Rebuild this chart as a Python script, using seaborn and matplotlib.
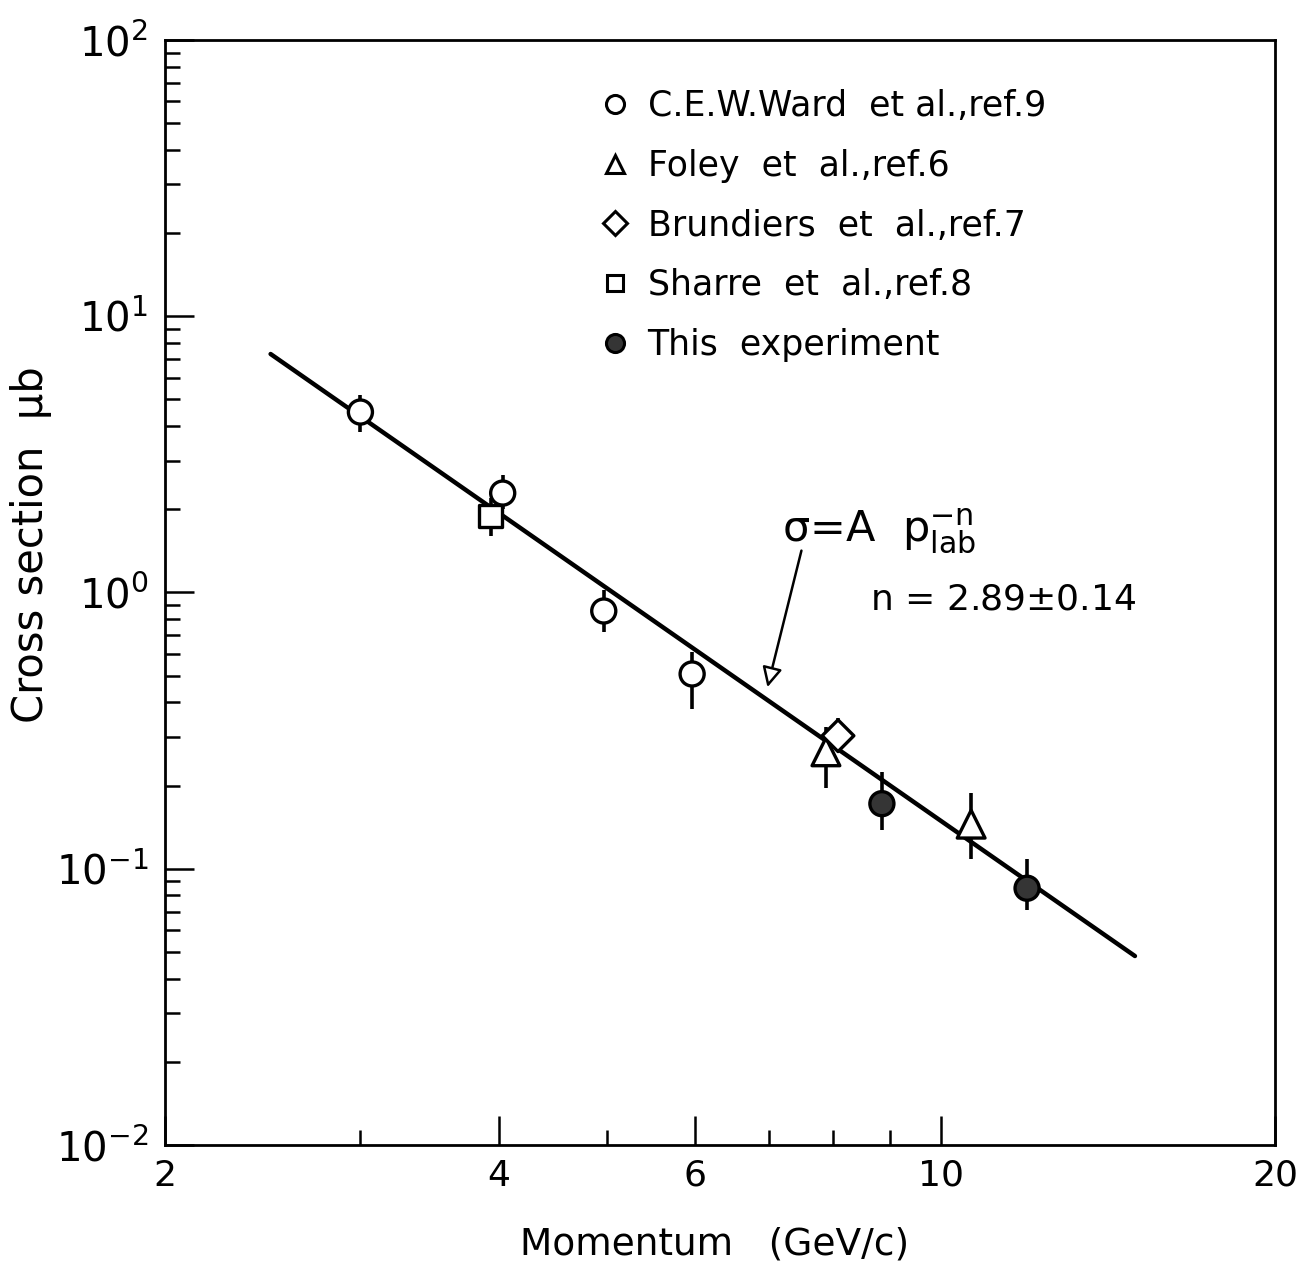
"""Wykres przekroju czynnego w funkcji pędu (log-log), odtworzenie skanu."""

import matplotlib
matplotlib.use('Agg')
import matplotlib.pyplot as plt
from matplotlib.lines import Line2D
from matplotlib.ticker import FixedLocator, LogLocator, NullFormatter
import seaborn as sns
import pandas as pd

# Krok 0: dane
ward_p = [3.0, 4.03, 4.97, 5.97]
ward_sigma = [4.5, 2.29, 0.857, 0.507]
ward_lo = [3.81, 2.0, 0.72, 0.38]
ward_hi = [5.19, 2.66, 1.02, 0.61]

foley_p = [7.88, 10.65]
foley_sigma = [0.265, 0.145]
foley_lo = [0.196, 0.108]
foley_hi = [0.326, 0.188]

brund_p = [8.08]
brund_sigma = [0.303]
brund_lo = [0.27]
brund_hi = [0.351]

sharre_p = [3.93]
sharre_sigma = [1.89]
sharre_lo = [1.60]
sharre_hi = [2.2]

this_p = [8.85, 11.96]
this_sigma = [0.172, 0.085]
this_lo = [0.138, 0.071]
this_hi = [0.224, 0.108]

# prosta dopasowania (końce)
fit_p = [2.49, 14.96]
fit_sigma = [7.3, 0.0483]

labels = [
    "C.E.W.Ward  et al.,ref.9",
    "Foley  et  al.,ref.6",
    "Brundiers  et  al.,ref.7",
    "Sharre  et  al.,ref.8",
    "This  experiment",
]

x_ticks = [2, 4, 6, 10, 20]
x_minor = [3, 5, 7, 8, 9]
y_ticks = [1e-2, 1e-1, 1e0, 1e1, 1e2]
y_tick_labels = [r"$10^{-2}$", r"$10^{-1}$", r"$10^{0}$", r"$10^{1}$", r"$10^{2}$"]

sns.set_theme(style="ticks")
plt.rcParams['font.family'] = ['DejaVu Sans']
plt.rcParams.update({"text.color": "black", "axes.labelcolor": "black",
                     "xtick.color": "black", "ytick.color": "black"})

# Krok 1: tabela do seaborn
sets = [
    (labels[0], ward_p, ward_sigma, ward_lo, ward_hi),
    (labels[1], foley_p, foley_sigma, foley_lo, foley_hi),
    (labels[2], brund_p, brund_sigma, brund_lo, brund_hi),
    (labels[3], sharre_p, sharre_sigma, sharre_lo, sharre_hi),
    (labels[4], this_p, this_sigma, this_lo, this_hi),
]
rows = []
for name, ps, ss, los, his in sets:
    for p, s, lo, hi in zip(ps, ss, los, his):
        rows.append({"source": name, "p": p, "sigma": s, "lo": lo, "hi": hi})
df = pd.DataFrame(rows)

markers = {labels[0]: "o", labels[1]: "^", labels[2]: "D", labels[3]: "s", labels[4]: "o"}
faces = {labels[0]: "white", labels[1]: "white", labels[2]: "white",
         labels[3]: "white", labels[4]: "#353535"}
sizes = {labels[0]: 300, labels[1]: 400, labels[2]: 260, labels[3]: 260, labels[4]: 300}

fig = plt.figure(figsize=(13.02, 12.66), dpi=100)
ax = fig.add_axes([0.1267, 0.0956, 0.8525, 0.8728])
ax.set_xscale("log")
ax.set_yscale("log")

# Krok 2: prosta dopasowania
sns.lineplot(x=fit_p, y=fit_sigma, color="black", linewidth=3.2, ax=ax, zorder=1)

# Krok 3: słupki błędów
ax.errorbar(df["p"], df["sigma"],
            yerr=[df["sigma"] - df["lo"], df["hi"] - df["sigma"]],
            fmt="none", ecolor="black", elinewidth=2.6, capsize=0, zorder=2)

# Krok 4: punkty
sns.scatterplot(data=df, x="p", y="sigma", hue="source", palette=faces,
                style="source", markers=markers, size="source", sizes=sizes,
                edgecolor="black", linewidth=2.4, legend=False, ax=ax, zorder=3)

# Krok 5: osie
ax.set_xlim(2, 20)
ax.set_ylim(1e-2, 1e2)
ax.xaxis.set_major_locator(FixedLocator(x_ticks))
ax.set_xticklabels([str(t) for t in x_ticks])
ax.xaxis.set_minor_locator(FixedLocator(x_minor))
ax.xaxis.set_minor_formatter(NullFormatter())
ax.yaxis.set_major_locator(FixedLocator(y_ticks))
ax.set_yticklabels(y_tick_labels)
ax.yaxis.set_minor_locator(LogLocator(base=10, subs=range(2, 10)))
ax.yaxis.set_minor_formatter(NullFormatter())

ax.tick_params(which="both", direction="in", width=1.8, top=False, right=False)
ax.tick_params(which="major", length=21)
ax.tick_params(which="minor", length=11)
ax.tick_params(axis="x", which="major", labelsize=26, pad=10)
ax.tick_params(axis="y", which="major", labelsize=29, pad=12)

for sp in ax.spines.values():
    sp.set_linewidth(2.0)
    sp.set_color("black")

ax.set_xlabel("Momentum   (GeV/c)", fontsize=27)
ax.set_ylabel("Cross section  μb", fontsize=30)
ax.xaxis.set_label_coords(0.495, -0.074)
ax.yaxis.set_label_coords(-0.102, 0.543)

# Krok 6: legenda
handles = [
    Line2D([], [], marker="o", ls="none", mfc="white", mec="black", ms=13, mew=2.2),
    Line2D([], [], marker="^", ls="none", mfc="white", mec="black", ms=13, mew=2.2),
    Line2D([], [], marker="D", ls="none", mfc="white", mec="black", ms=12, mew=2.2),
    Line2D([], [], marker="s", ls="none", mfc="white", mec="black", ms=12, mew=2.2),
    Line2D([], [], marker="o", ls="none", mfc="#353535", mec="black", ms=13, mew=2.2),
]
ax.legend(handles, labels, loc="upper left", bbox_to_anchor=(0.38, 0.968),
          frameon=False, fontsize=25, handlelength=0.8, handletextpad=0.55,
          labelspacing=0.74, borderaxespad=0)

# Krok 7: opis dopasowania + strzałka
ax.annotate("", xy=(6.97, 0.444), xytext=(7.5, 1.45),
            arrowprops=dict(arrowstyle="-|>", facecolor="white", edgecolor="black",
                            lw=1.8, mutation_scale=30))
ax.text(7.2, 1.68, r"σ=A  $\mathregular{p_{lab}^{-n}}$", fontsize=31,
        va="center", ha="left")
ax.text(8.63, 0.94, r"n = 2.89$\pm$0.14", fontsize=26, va="center", ha="left")

fig.savefig("out.png", dpi=100)
